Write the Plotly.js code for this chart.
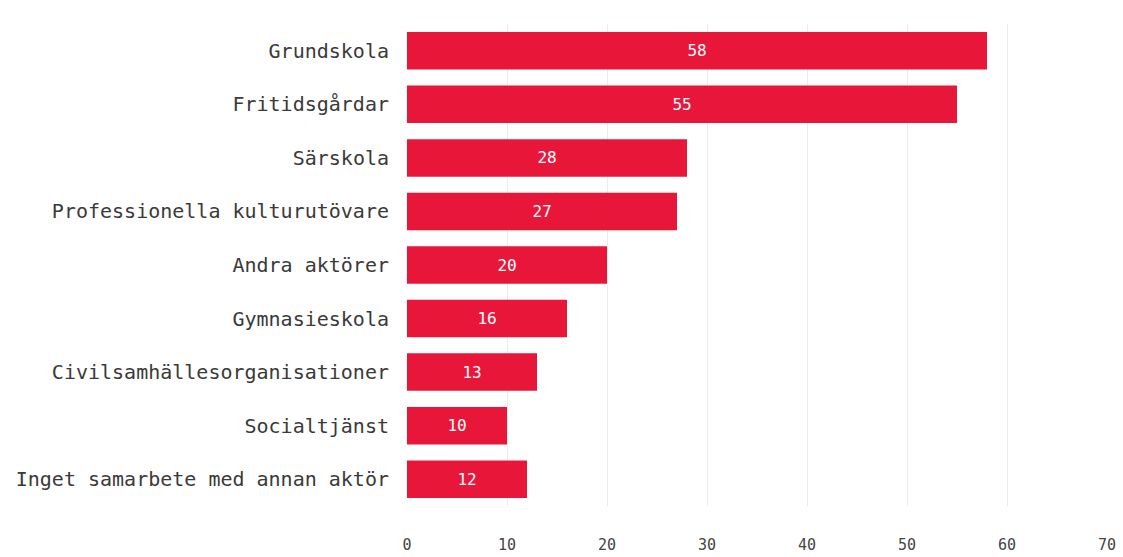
<!DOCTYPE html>
<html><head><meta charset="utf-8">
<script src="https://cdn.plot.ly/plotly-3.0.1.min.js"></script>
<style>html,body{margin:0;padding:0;background:#fff}#chart{width:1123px;height:557px}</style>
</head><body><div id="chart"></div>
<script>
const categories = ["Grundskola","Fritidsgårdar","Särskola","Professionella kulturutövare","Andra aktörer","Gymnasieskola","Civilsamhällesorganisationer","Socialtjänst","Inget samarbete med annan aktör"];
const values = [58,55,28,27,20,16,13,10,12];
const xTicks = [0,10,20,30,40,50,60,70];

const mono = "DejaVu Sans Mono, monospace";
Plotly.newPlot("chart", [{
  type: "bar", orientation: "h",
  x: values, y: categories,
  text: values.map(String),
  textposition: "inside", insidetextanchor: "middle",
  textfont: {family: mono, size: 16, color: "#ffffff"},
  marker: {color: "#E8173A"},
  hoverinfo: "none"
}], {
  width: 1123, height: 557,
  margin: {l: 407, r: 16, t: 24, b: 51},
  paper_bgcolor: "#fff", plot_bgcolor: "#fff",
  bargap: 0.3,
  showlegend: false,
  xaxis: {range: [0, 70], tickvals: xTicks, ticktext: xTicks.map(String),
    showgrid: true, gridcolor: "#ececec", zeroline: false, showline: false,
    ticks: "", ticklabelstandoff: 28,
    tickfont: {family: mono, size: 15, color: "#444"}},
  yaxis: {autorange: "reversed", showgrid: false, zeroline: false, showline: false,
    ticks: "", ticklabelstandoff: 17,
    tickfont: {family: mono, size: 20, color: "#3a3a3a"}}
}, {displayModeBar: false, staticPlot: true});
</script></body></html>
